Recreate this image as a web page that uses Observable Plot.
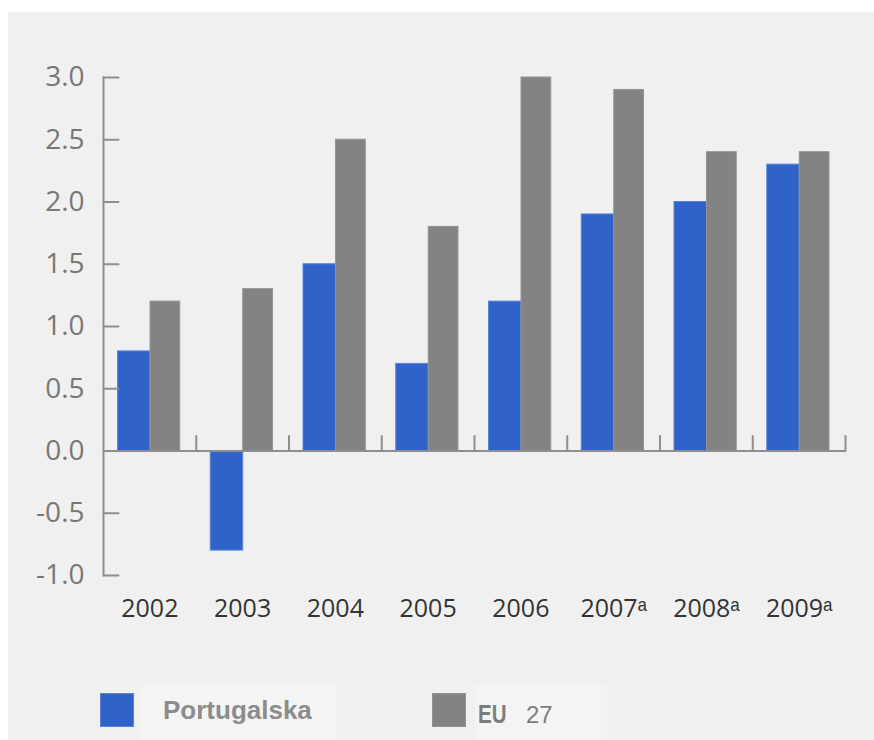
<!DOCTYPE html>
<html>
<head>
<meta charset="utf-8">
<script src="https://cdn.jsdelivr.net/npm/d3@7"></script>
<script src="https://cdn.jsdelivr.net/npm/@observablehq/plot@0.6"></script>
<style>
  html, body { margin: 0; padding: 0; background: #ffffff; }
  body { position: relative; width: 874px; height: 740px; overflow: hidden; }
  #panel { position: absolute; left: 8px; top: 12px; width: 866px; height: 728px; background: #f0f0f0; }
  .abs { position: absolute; }
  .box { background: #f4f4f4; }
  .sw { box-sizing: border-box; width: 34px; height: 34px; }
  .lab { white-space: pre; line-height: 26px; }
</style>
</head>
<body>
<div id="panel"><div id="chart"></div></div>
<div id="legend"></div>
<script>
const years = ["2002", "2003", "2004", "2005", "2006", "2007", "2008", "2009"];
const xTickLabels = ["2002", "2003", "2004", "2005", "2006", "2007ᵃ", "2008ᵃ", "2009ᵃ"];
const portugal = [0.8, -0.8, 1.5, 0.7, 1.2, 1.9, 2.0, 2.3];
const eu27 = [1.2, 1.3, 2.5, 1.8, 3.0, 2.9, 2.4, 2.4];
const yTicks = [-1, -0.5, 0, 0.5, 1, 1.5, 2, 2.5, 3];
const seriesNames = ["Portugalska", "EU", "27"];
const blue = "#3063c9";
const grey = "#838383";
const axisGrey = "#8e8e8e";

const W = 866, H = 640, mL = 95, mR = 29, mT = 65, mB = 77;
const bandHalf = (W - mL - mR) / years.length / 2;
const lineShape = { draw(ctx, l) { ctx.moveTo(0, 0); ctx.lineTo(0, -l); } };

const chart = Plot.plot({
  width: W, height: H,
  marginLeft: mL, marginRight: mR, marginTop: mT, marginBottom: mB,
  style: { background: "#f0f0f0", fontFamily: "'Open Sans', sans-serif", overflow: "visible" },
  x: { type: "band", domain: years, padding: 0, round: false },
  y: { domain: [-1, 3] },
  marks: [
    Plot.barY(years, { x: d => d, y1: () => 0, y2: (d, i) => portugal[i], fill: blue, stroke: "#5a84d6", strokeWidth: 1, insetLeft: 14.5, insetRight: 45.75 }),
    Plot.barY(years, { x: d => d, y1: () => 0, y2: (d, i) => eu27[i], fill: grey, stroke: "#939393", strokeWidth: 1, insetLeft: 47, insetRight: 16 }),
    Plot.frame({ anchor: "left", stroke: axisGrey, strokeWidth: 2 }),
    Plot.ruleY([0], { stroke: axisGrey, strokeWidth: 2 }),
    Plot.vector(yTicks, { y: d => d, frameAnchor: "left", length: 15, rotate: 90, anchor: "start", shape: lineShape, stroke: axisGrey, strokeWidth: 2 }),
    Plot.vector(years, { x: d => d, y: () => 0, dx: bandHalf, length: 15, rotate: 0, anchor: "start", shape: lineShape, stroke: axisGrey, strokeWidth: 2 }),
    Plot.axisY({ ticks: yTicks, tickSize: 0, tickPadding: 19, tickFormat: d => d.toFixed(1), fontSize: 28, color: "#777777" }),
    Plot.axisX({ tickSize: 0, tickPadding: 24, tickFormat: d => xTickLabels[years.indexOf(d)], fontSize: 25, color: "#333333" })
  ]
});
document.getElementById("chart").appendChild(chart);

const legend = document.getElementById("legend");
legend.innerHTML = `
  <div class="abs box" style="left:140px;top:685px;width:197px;height:55px"></div>
  <div class="abs box" style="left:475px;top:685px;width:132px;height:55px"></div>
  <div class="abs sw" style="left:100px;top:693px;background:${blue};border:1px solid #5a84d6"></div>
  <div class="abs lab" style="left:163px;top:697px;font:bold 26px/26px 'Liberation Sans', Arial, sans-serif;color:#8c8c8c">${seriesNames[0]}</div>
  <div class="abs sw" style="left:432px;top:693px;background:${grey};border:1px solid #939393"></div>
  <div class="abs lab" style="left:478px;top:702px;font:bold 25px/25px 'Liberation Sans Narrow', 'Liberation Sans', Arial, sans-serif;color:#7c7c7c;transform:scaleX(0.82);transform-origin:left top">${seriesNames[1]}</div>
  <div class="abs lab" style="left:526px;top:702px;font:24px/25px 'Liberation Sans', Arial, sans-serif;color:#7c7c7c">${seriesNames[2]}</div>
`;
</script>
</body>
</html>
